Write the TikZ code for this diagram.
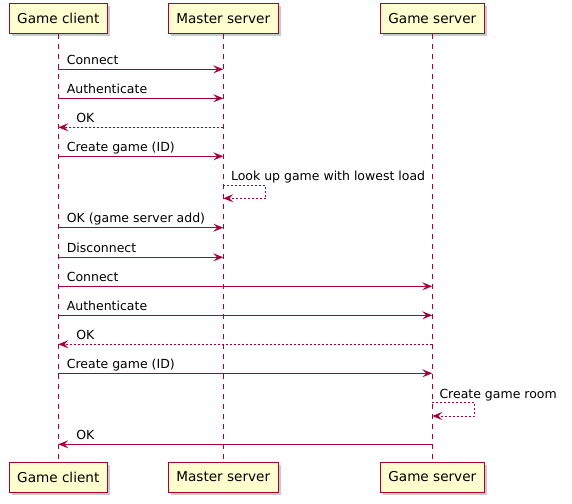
\documentclass[tikz,border=0pt]{standalone}
\usepackage{fontspec}
\setmainfont{DejaVu Sans}
\usetikzlibrary{arrows.meta,shadows}

\definecolor{umlred}{HTML}{A80036}
\definecolor{umlfill}{HTML}{FEFECE}

\begin{document}
\begin{tikzpicture}[x=1pt,y=-1pt,
    actor/.style={draw=umlred, fill=umlfill, line width=1pt,
        minimum height=30pt, inner xsep=8pt, font=\fontsize{13.6}{16}\selectfont,
        drop shadow={shadow xshift=3pt, shadow yshift=-3pt, fill=black!35, opacity=0.6}},
    lifeline/.style={draw=umlred, line width=0.8pt, dash pattern=on 5pt off 5pt},
    msg/.style={draw=umlred, line width=1pt,
        -{Stealth[length=10pt, width=8pt, inset=4pt]}},
    reply/.style={msg, dash pattern=on 2pt off 2pt},
    lbl/.style={anchor=base west, inner sep=0pt, font=\fontsize{12.5}{15}\selectfont}]
    \useasboundingbox (0,0) rectangle (572,503);

    % participants
    \node[actor] (gc) at (58.3,18.3) {Game client};
    \node[actor] (ms) at (223.3,18.3) {Master server};
    \node[actor] (gs) at (432.3,18.3) {Game server};
    \node[actor] (gcb) at (58.3,477) {Game client};
    \node[actor] (msb) at (223.3,477) {Master server};
    \node[actor] (gsb) at (432.3,477) {Game server};

    % lifelines
    \draw[lifeline] (gc) -- (gcb);
    \draw[lifeline] (ms) -- (msb);
    \draw[lifeline] (gs) -- (gsb);

    % message rows
    \coordinate (r1) at (0,69.3);
    \coordinate (r2) at (0,98.3);
    \coordinate (r3) at (0,127.3);
    \coordinate (r4) at (0,156.3);
    \coordinate (r5a) at (0,185);
    \coordinate (r5b) at (0,198.3);
    \coordinate (r6) at (0,227.7);
    \coordinate (r7) at (0,257.3);
    \coordinate (r8) at (0,286.3);
    \coordinate (r9) at (0,315.3);
    \coordinate (r10) at (0,344.3);
    \coordinate (r11) at (0,373.3);
    \coordinate (r12a) at (0,402.5);
    \coordinate (r12b) at (0,416);
    \coordinate (r13) at (0,444.3);

    \draw[msg] (gc |- r1) -- (ms |- r1)
        node[lbl] at ([shift={(8,-5)}]gc |- r1) {Connect};
    \draw[msg] (gc |- r2) -- (ms |- r2)
        node[lbl] at ([shift={(8,-5)}]gc |- r2) {Authenticate};
    \draw[reply] (ms |- r3) -- (gc |- r3)
        node[lbl] at ([shift={(17.5,-5)}]gc |- r3) {OK};
    \draw[msg] (gc |- r4) -- (ms |- r4)
        node[lbl] at ([shift={(8,-5)}]gc |- r4) {Create game (ID)};
    \draw[reply] (ms |- r5a) -- ++(42.5,0) |- (ms |- r5b);
    \node[lbl] at ([shift={(7.5,-4.5)}]ms |- r5a) {Look up game with lowest load};
    \draw[msg] (gc |- r6) -- (ms |- r6)
        node[lbl] at ([shift={(8,-5)}]gc |- r6) {OK (game server add)};
    \draw[msg] (gc |- r7) -- (ms |- r7)
        node[lbl] at ([shift={(8,-5)}]gc |- r7) {Disconnect};
    \draw[msg] (gc |- r8) -- (gs |- r8)
        node[lbl] at ([shift={(8,-5)}]gc |- r8) {Connect};
    \draw[msg] (gc |- r9) -- (gs |- r9)
        node[lbl] at ([shift={(8,-5)}]gc |- r9) {Authenticate};
    \draw[reply] (gs |- r10) -- (gc |- r10)
        node[lbl] at ([shift={(17.5,-5)}]gc |- r10) {OK};
    \draw[msg] (gc |- r11) -- (gs |- r11)
        node[lbl] at ([shift={(8,-5)}]gc |- r11) {Create game (ID)};
    \draw[reply] (gs |- r12a) -- ++(42.5,0) |- (gs |- r12b);
    \node[lbl] at ([shift={(7,-4.5)}]gs |- r12a) {Create game room};
    \draw[msg] (gs |- r13) -- (gc |- r13)
        node[lbl] at ([shift={(17.5,-5)}]gc |- r13) {OK};
\end{tikzpicture}
\end{document}
